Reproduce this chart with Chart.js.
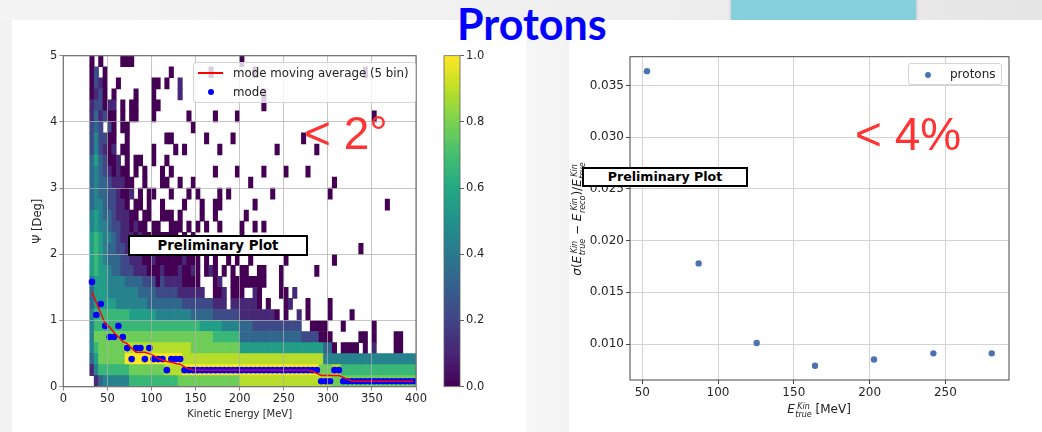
<!DOCTYPE html>
<html>
<head>
<meta charset="utf-8">
<title>Protons</title>
<script src="https://cdn.jsdelivr.net/npm/chart.js@4.4.1/dist/chart.umd.min.js"></script>
<style>
  html, body { margin: 0; padding: 0; }
  body { width: 1042px; height: 432px; overflow: hidden; position: relative; background: #f2f2f2; font-family: "DejaVu Sans", sans-serif; color: #222; }
  .abs { position: absolute; }
  #topband { left: 0; top: 0; width: 1042px; height: 20px; background: linear-gradient(to right, #f4f4f4, #efefef 60%, #e5e5e5); }
  #teal { left: 731px; top: 0; width: 185px; height: 20px; background: #86d0de; box-shadow: 0 0 3px rgba(0,0,0,0.25); }
  #panelL { left: 12px; top: 20px; width: 514px; height: 412px; background: #fff; }
  #strip { left: 526px; top: 20px; width: 43px; height: 412px; background: linear-gradient(to right, #f7f7f7, #f3f3f3); }
  #panelR { left: 569px; top: 20px; width: 473px; height: 412px; background: #fff; }
  #title { left: 457px; top: 2px; font: 700 43px Lato, sans-serif; line-height: 1; color: #0000ff; }
  .legend { background: rgba(255,255,255,0.8); border: 1px solid #d4d4d4; border-radius: 3px; box-sizing: border-box; font-size: 11.8px; line-height: 14px; color: #222; }
  .legend span { position: absolute; white-space: nowrap; }
  .red { color: #ff3333; font: 46px "Liberation Sans", Arial, sans-serif; line-height: 1; white-space: nowrap; }
  .prelim { background: #fff; border: 2px solid #000; box-sizing: border-box; font-weight: bold; text-align: center; color: #000; }
  .ss { display: inline-flex; flex-direction: column; font-size: 8px; line-height: 8px; vertical-align: 4px; margin-left: 0.5px; }
  i { font-style: italic; }
</style>
</head>
<body>
<div class="abs" id="topband"></div>
<div class="abs" id="teal"></div>
<div class="abs" id="panelL"></div>
<div class="abs" id="strip"></div>
<div class="abs" id="panelR"></div>
<div class="abs" id="title">Protons</div>

<canvas class="abs" id="heat" width="416" height="412" style="left:12px;top:20px"></canvas>
<canvas class="abs" id="cbar" width="80" height="412" style="left:430px;top:20px"></canvas>
<canvas class="abs" id="res" width="473" height="412" style="left:569px;top:20px"></canvas>

<!-- left chart legend -->
<div class="abs legend" style="left:193px;top:62px;width:223px;height:41px">
  <span style="left:4px;top:9px;width:25px;height:1.5px;background:#ff0000"></span>
  <span style="left:39px;top:3px">mode moving average (5 bin)</span>
  <span style="left:13.5px;top:25.5px;width:6.6px;height:6.6px;border-radius:50%;background:#0000ff"></span>
  <span style="left:39px;top:22px">mode</span>
</div>
<div class="abs red" style="left:304px;top:110px">&lt; 2°</div>
<div class="abs prelim" style="left:128px;top:235px;width:180px;height:21px;font-size:13.3px;line-height:17px">Preliminary Plot</div>

<!-- right chart annotations -->
<div class="abs legend" style="left:908px;top:63px;width:94px;height:22px;background:#fff;font-size:12px">
  <span style="left:15.7px;top:7.7px;width:6.6px;height:6.6px;border-radius:50%;background:#4c72b0"></span>
  <span style="left:41px;top:3px">protons</span>
</div>
<div class="abs red" style="left:855px;top:111px">&lt; 4%</div>
<div class="abs" id="resY" style="left:502px;top:209px;width:150px;height:20px;line-height:20px;font-size:12px;text-align:center;white-space:nowrap;transform:rotate(-90deg)"><i>σ</i>(<i>E</i><span class="ss"><i>Kin</i><i>true</i></span> − <i>E</i><span class="ss"><i>Kin</i><i>reco</i></span>)/<i>E</i><span class="ss"><i>Kin</i><i>true</i></span></div>
<div class="abs prelim" style="left:582px;top:167px;width:166px;height:20px;font-size:12.6px;line-height:16px">Preliminary Plot</div>
<div class="abs" id="resX" style="left:759px;top:399px;width:120px;height:20px;line-height:20px;font-size:12px;text-align:center;white-space:nowrap"><i>E</i><span class="ss"><i>Kin</i><i>true</i></span> [MeV]</div>

<script>
// ---- histogram: angle vs kinetic energy (5 MeV x 1/6 deg bins) ----
const eBin = 5;
const aBin = 1 / 6;
// one string per angle row, top row (4.83-5.0 deg) first; tokens are "col:level" or "colA-colB:level", level 0..9
const histRows = [
  "6:0 8:0 13-15:0 40:0",
  "6:0 7:2 9:0 24:0 33:0 43:0 68:0",
  "6:0 7:2 8:1 9:0 12:0 20-21:0 23:0 26:1",
  "6:0 7:1 8:2 9:0 11:0 16:0 20:0 26:1 45:0",
  "6:1 7:2 8:2 9:0 10-11:1 13:0 15-16:0 20-21:0 45:0",
  "6:1 7:3 8:1 9:2 10-11:0 13:0 15-16:0 20:0 28:0 34:0 39:0 70:0",
  "6:2 7:3 8:2 10:2 11:0 13-14:0 29:0",
  "6:2 7:4 8:2 9:2 10-11:0 14:0 23-24:0 32:0 38:0 54:0",
  "6:2 7:4 8:2 9:1 10:0 11:1 13-14:0 20:0 25:0 27:0 35:0 48:0 57:0",
  "6:3 7:5 8:3 9:2 10-11:0 12:1 14:0 16-17:0 20:0 23:0",
  "6:3 7:4 8:3 9:2 10:1 11:0 12:1 13-14:0 16:0 18:0 22:0 24:0 34:0 39:0 45:0 50:0 55:0",
  "6:3 7:4 8:3 9:3 10:2 11-13:1 14-15:0 18:0 22-23:0 26:0 29:0 42:0 61:0",
  "6:3 7:4 8:3 9:3 10-11:2 12:1 13-14:0 15:1 17:0 19-20:0 24:0 28:0 30:0 35:0 37:0 47:0 60:0",
  "6:3 7:4 8:4 9:3 10-11:2 12-13:1 14:0 16-17:0 19:0 22:0 27:0 31:0 34-35:0 43:0 73:0",
  "6:4 7:5 8:4 9:3 10:3 11:2 12-14:1 15-16:0 18-19:0 22-24:0 26:0 31:0 34:0 41:0",
  "6:4 7:5 8:4 9:4 10:3 11-12:2 13-14:1 15:0 16:1 17-18:0 20-21:0 24-26:0 28:0 30:0 32:0 35:0 40:0 43:0 45:0",
  "6:5 7:6 8:5 9:4 10:4 11:3 12:2 13-15:1 16:0 17:1 18-25:0 27:0 29:0 40:0",
  "6:5 7:6 8:5 9:4 10-11:3 12-13:2 14-16:1 17-18:0 19:1 20:0 22:0 24:0 26:0 28:0 30:0 33:0 36:0 40:0 67:0",
  "6:5 7:6 8:5 9:4 10-12:3 13-14:2 15-17:1 18-19:0 20:1 21-26:0 27:1 28-30:0 32:0 34:0 37:0 39:0 42:0 50:0 61:0",
  "6:5 7:6 8:5 9:5 10:4 11-12:3 13-15:2 16-18:1 19-21:0 22:1 23-25:0 26:1 27-28:0 29:1 30:0 32:0 33:1 34:0 36:0 38:0 40-41:0 44-45:0 49:0 57:0",
  "6:4 7-9:5 10-13:4 14-17:3 18-20:2 21:0 22:2 23-26:1 27-30:0 34:0 35:1 38-45:0 49:0",
  "6:3 7-9:5 10-16:4 17-20:3 21-25:2 26-31:1 34-35:0 36:1 38-40:0 43:1 44:0 49-50:0 52:1",
  "6:3 7-11:5 12-18:4 19-26:3 27-33:2 34-36:1 38-43:1 44:0 46:0 50:0 51:1 55:0 60:0",
  "6:4 7-14:6 15-20:5 21-28:4 29-33:3 34-39:2 40-47:1 48:0 50:0 53:1 55:0 60:0 65:0",
  "6:4 7:6 8-20:6 21-30:6 31-35:5 36-39:4 40-42:3 43-53:2 56-59:0 63:0 70:0",
  "6:4 7-12:7 13-24:7 25-33:7 34-39:6 40-53:3 54-57:2 58-60:0 67-68:0 70:0 75-76:0",
  "6:4 7:6 8-13:7 14-28:8 29-39:7 40-58:5 59-60:3 61:0 63-66:0 68:0 70:1 75-76:0",
  "6:3 7:5 8-13:7 14-26:9 27-58:8 59-79:4",
  "6:1 7:4 8-14:6 15-22:7 23-26:8 27-57:9 58-60:7 61-62:8 63-79:6",
  "7:1 8:3 9-14:4 15-25:6 26-39:7 40-57:8 58-60:8 61-62:7 63-79:7"
];

// mode of each energy column and its 5-bin moving average
const modeEnergy = [32.5, 37.5, 42.5, 47.5, 52.5, 57.5, 62.5, 67.5, 72.5, 77.5, 82.5, 87.5, 92.5, 97.5,
  102.5, 107.5, 112.5, 117.5, 122.5, 127.5, 132.5, 137.5, 142.5, 147.5, 152.5, 157.5, 162.5, 167.5,
  172.5, 177.5, 182.5, 187.5, 192.5, 197.5, 202.5, 207.5, 212.5, 217.5, 222.5, 227.5, 232.5, 237.5,
  242.5, 247.5, 252.5, 257.5, 262.5, 267.5, 272.5, 277.5, 282.5, 287.5, 292.5, 297.5, 302.5, 307.5,
  312.5, 317.5, 322.5, 327.5, 332.5, 337.5, 342.5, 347.5, 352.5, 357.5, 362.5, 367.5, 372.5, 377.5,
  382.5, 387.5, 392.5, 397.5];
const modeAngle = [1.583, 1.083, 1.25, 0.917, 0.75, 0.75, 0.917, 0.75, 0.583, 0.417, 0.583, 0.583, 0.417, 0.583,
  0.417, 0.417, 0.417, 0.25, 0.417, 0.417, 0.417, 0.25, 0.25, 0.25, 0.25, 0.25, 0.25, 0.25,
  0.25, 0.25, 0.25, 0.25, 0.25, 0.25, 0.25, 0.25, 0.25, 0.25, 0.25, 0.25, 0.25, 0.25,
  0.25, 0.25, 0.25, 0.25, 0.25, 0.25, 0.25, 0.25, 0.25, 0.25, 0.083, 0.083, 0.083, 0.25,
  0.25, 0.083, 0.083, 0.083, 0.083, 0.083, 0.083, 0.083, 0.083, 0.083, 0.083, 0.083, 0.083, 0.083,
  0.083, 0.083, 0.083, 0.083];
const modeAvg = [1.43, 1.27, 1.11, 0.95, 0.9, 0.82, 0.75, 0.68, 0.65, 0.58, 0.52, 0.52, 0.52, 0.5,
  0.47, 0.43, 0.4, 0.38, 0.37, 0.35, 0.34, 0.3, 0.27, 0.25, 0.25, 0.25, 0.25, 0.25,
  0.25, 0.25, 0.25, 0.25, 0.25, 0.25, 0.25, 0.25, 0.25, 0.25, 0.25, 0.25, 0.25, 0.25,
  0.25, 0.25, 0.25, 0.25, 0.25, 0.25, 0.25, 0.25, 0.23, 0.2, 0.17, 0.17, 0.17, 0.17,
  0.17, 0.14, 0.11, 0.083, 0.083, 0.083, 0.083, 0.083, 0.083, 0.083, 0.083, 0.083, 0.083, 0.083,
  0.083, 0.083, 0.083, 0.083];

const heatXTicks = [0, 50, 100, 150, 200, 250, 300, 350, 400];
const heatYTicks = [0, 1, 2, 3, 4, 5];
const cbarTicks = [0, 0.2, 0.4, 0.6, 0.8, 1.0];

// ---- energy resolution (right plot) ----
const protonE = [53.1, 87.2, 125.5, 164.0, 202.9, 242.1, 280.6];
const protonRes = [0.0364, 0.0178, 0.0101, 0.0079, 0.0085, 0.0091, 0.0091];
const resXTicks = [50, 100, 150, 200, 250];
const resYTicks = [0.010, 0.015, 0.020, 0.025, 0.030, 0.035];

const viridisStops = ['#440154', '#482475', '#414487', '#355f8d', '#2a788e', '#21918c',
  '#22a884', '#44bf70', '#7ad151', '#bddf26', '#fde725'];

function hexRgb(h) {
  return [1, 3, 5].map(k => parseInt(h.slice(k, k + 2), 16));
}

function viridis(t) {
  const s = Math.max(0, Math.min(1, t)) * 10;
  const i = Math.min(9, Math.floor(s));
  const f = s - i;
  const a = hexRgb(viridisStops[i]);
  const b = hexRgb(viridisStops[i + 1]);
  const c = a.map((v, k) => Math.round(v + (b[k] - v) * f));
  return 'rgb(' + c.join(',') + ')';
}

// turn the row strings into floating bar cells
const cells = [];
histRows.forEach((row, k) => {
  const j = histRows.length - 1 - k;
  row.split(' ').filter(Boolean).forEach(tok => {
    const [range, lvl] = tok.split(':');
    const ends = range.split('-').map(Number);
    const last = ends.length > 1 ? ends[1] : ends[0];
    for (let c = ends[0]; c <= last; c++) {
      cells.push({ x: c * eBin + eBin / 2, y: [j * aBin, (j + 1) * aBin], v: Number(lvl) / 9 });
    }
  });
});

const framePlugin = {
  id: 'frame',
  afterDraw(chart, args, opts) {
    const a = chart.chartArea;
    const ctx = chart.ctx;
    ctx.save();
    ctx.strokeStyle = opts.color || '#555';
    ctx.lineWidth = opts.width || 1;
    ctx.strokeRect(a.left, a.top, a.right - a.left, a.bottom - a.top);
    ctx.restore();
  }
};

Chart.defaults.font.family = '"DejaVu Sans", sans-serif';
Chart.defaults.color = '#262626';

const tickFont = { size: 11.5 };
const gridColor = 'rgba(176,176,176,0.9)';

new Chart(document.getElementById('heat'), {
  type: 'bar',
  data: {
    datasets: [
      {
        type: 'line',
        label: 'mode moving average (5 bin)',
        data: modeEnergy.map((e, i) => ({ x: e, y: modeAvg[i] })),
        borderColor: '#ff0000',
        borderWidth: 1.4,
        pointRadius: 0,
        fill: false,
        tension: 0
      },
      {
        type: 'scatter',
        label: 'mode',
        data: modeEnergy.map((e, i) => ({ x: e, y: modeAngle[i] })),
        backgroundColor: '#0000ff',
        borderWidth: 0,
        pointRadius: 3.3
      },
      {
        type: 'bar',
        label: 'hist',
        data: cells,
        backgroundColor: c => (c.raw ? viridis(c.raw.v) : viridis(0)),
        borderWidth: 0,
        barPercentage: 1,
        categoryPercentage: 1,
        grouped: false
      }
    ]
  },
  options: {
    responsive: false,
    animation: false,
    devicePixelRatio: 1,
    layout: { padding: { left: 15.1, right: 6.3, top: 35.7, bottom: 8 } },
    plugins: {
      legend: { display: false },
      tooltip: { enabled: false },
      frame: { color: '#707070', width: 1.2 }
    },
    scales: {
      x: {
        type: 'linear',
        min: 0,
        max: 400,
        offset: false,
        afterBuildTicks: s => { s.ticks = heatXTicks.map(v => ({ value: v })); },
        ticks: { font: tickFont, maxRotation: 0, autoSkip: false, padding: 1 },
        grid: { color: gridColor, lineWidth: 0.8, z: 1, offset: false, tickLength: 4, tickColor: '#707070' },
        border: { display: false },
        title: { display: true, text: 'Kinetic Energy [MeV]', font: { size: 10 }, padding: { top: 2, bottom: 4 } },
        afterFit: s => { s.height = 37.3; }
      },
      y: {
        type: 'linear',
        min: 0,
        max: 5,
        afterBuildTicks: s => { s.ticks = heatYTicks.map(v => ({ value: v })); },
        ticks: { font: tickFont, padding: 2 },
        grid: { color: gridColor, lineWidth: 0.8, z: 1, tickLength: 4, tickColor: '#707070' },
        border: { display: false },
        title: { display: true, text: 'Ψ [Deg]', font: { size: 11.5 }, padding: { top: 4, bottom: 2 } },
        afterFit: s => { s.width = 36.2; }
      }
    }
  },
  plugins: [framePlugin]
});

new Chart(document.getElementById('cbar'), {
  type: 'bar',
  data: {
    labels: [''],
    datasets: [{
      data: [[0, 1]],
      backgroundColor: c => {
        const a = c.chart.chartArea;
        if (!a) return viridis(0.5);
        const g = c.chart.ctx.createLinearGradient(0, a.bottom, 0, a.top);
        viridisStops.forEach((col, i) => g.addColorStop(i / 10, col));
        return g;
      },
      borderWidth: 0,
      barPercentage: 1,
      categoryPercentage: 1,
      inflateAmount: 0
    }]
  },
  options: {
    responsive: false,
    animation: false,
    devicePixelRatio: 1,
    layout: { padding: { left: 14, right: 0, top: 35.7, bottom: 45.3 } },
    plugins: {
      legend: { display: false },
      tooltip: { enabled: false },
      frame: { color: '#606060', width: 0.8 }
    },
    scales: {
      x: { display: false },
      y: {
        position: 'right',
        min: 0,
        max: 1,
        afterBuildTicks: s => { s.ticks = cbarTicks.map(v => ({ value: v })); },
        ticks: { font: tickFont, padding: 2, callback: v => v.toFixed(1) },
        grid: { drawOnChartArea: false, tickLength: 4, tickColor: '#606060' },
        border: { display: false },
        afterFit: s => { s.width = 50; }
      }
    }
  },
  plugins: [framePlugin]
});

new Chart(document.getElementById('res'), {
  type: 'scatter',
  data: {
    datasets: [{
      label: 'protons',
      data: protonE.map((e, i) => ({ x: e, y: protonRes[i] })),
      backgroundColor: '#4c72b0',
      borderWidth: 0,
      pointRadius: 3.2
    }]
  },
  options: {
    responsive: false,
    animation: false,
    devicePixelRatio: 1,
    layout: { padding: { left: 11, right: 33, top: 36.7, bottom: 22 } },
    plugins: {
      legend: { display: false },
      tooltip: { enabled: false },
      frame: { color: '#444', width: 1 }
    },
    scales: {
      x: {
        type: 'linear',
        min: 41.9,
        max: 292,
        afterBuildTicks: s => { s.ticks = resXTicks.map(v => ({ value: v })); },
        ticks: { font: { size: 12 }, maxRotation: 0, padding: 2 },
        grid: { color: '#d3d3d3', lineWidth: 1, tickLength: 4, tickColor: '#444' },
        border: { display: false },
        afterFit: s => { s.height = 30; }
      },
      y: {
        type: 'linear',
        min: 0.00652,
        max: 0.0378,
        afterBuildTicks: s => { s.ticks = resYTicks.map(v => ({ value: v })); },
        ticks: { font: { size: 12 }, padding: 2, callback: v => v.toFixed(3) },
        grid: { color: '#d3d3d3', lineWidth: 1, tickLength: 4, tickColor: '#444' },
        border: { display: false },
        afterFit: s => { s.width = 50; }
      }
    }
  },
  plugins: [framePlugin]
});
</script>
</body>
</html>
